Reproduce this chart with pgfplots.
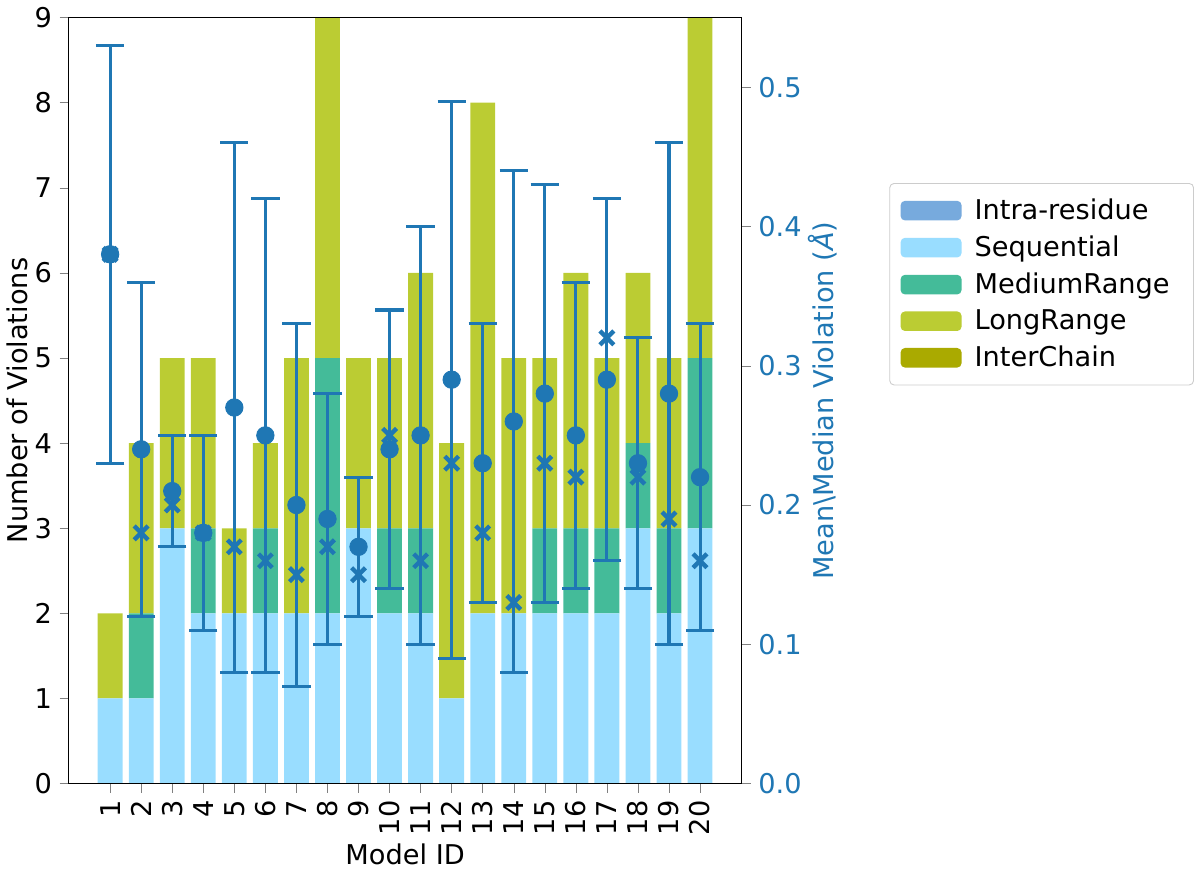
\documentclass[border=0pt]{standalone}
\usepackage{pgfplots}
\pgfplotsset{compat=1.18}
\usepackage{fontspec}
\setmainfont{DejaVu Sans}
\definecolor{intra}{HTML}{77AADD}
\definecolor{seq}{HTML}{99DDFF}
\definecolor{med}{HTML}{44BB99}
\definecolor{long}{HTML}{BBCC33}
\definecolor{inter}{HTML}{AAAA00}
\definecolor{tblue}{HTML}{1F77B4}
\begin{document}
\begin{tikzpicture}[font=\fontsize{12.5}{15}\selectfont]
\pgfplotsset{every axis/.style={width=309pt,height=352pt,scale only axis,xmin=-0.33,xmax=21.33}}
\begin{axis}[
  ymin=0,ymax=9, ytick={0,...,9},
  ybar stacked, bar width=0.8,
  axis on top,
  xtick={1,...,20}, xticklabel style={rotate=90,anchor=east},
  xlabel={Model ID}, ylabel={Number of Violations},
  xlabel style={yshift=3pt}, ylabel style={yshift=-4pt},
  tick align=outside, tick pos=left,
  /pgf/number format/assume math mode=true,
  legend style={at={(1.22,0.784)},anchor=north west,draw=black!20,rounded corners=2pt,
    row sep=2pt, inner sep=5pt, font=\fontsize{12.5}{15}\selectfont,
    nodes={inner xsep=6pt}},
  legend cell align=left,
  legend image code/.code={\fill[#1] (0pt,-4.5pt) rectangle (28pt,4.5pt);},
]
\addlegendimage{fill=intra,draw=none}
\addlegendentry{Intra-residue}
\addplot[fill=seq,draw=none] coordinates {(1,1)(2,1)(3,3)(4,2)(5,2)(6,2)(7,2)(8,2)(9,3)(10,2)(11,2)(12,1)(13,2)(14,2)(15,2)(16,2)(17,2)(18,3)(19,2)(20,3)};
\addlegendentry{Sequential}
\addplot[fill=med,draw=none] coordinates {(1,0)(2,1)(3,0)(4,1)(5,0)(6,1)(7,0)(8,3)(9,0)(10,1)(11,1)(12,0)(13,0)(14,0)(15,1)(16,1)(17,1)(18,1)(19,1)(20,2)};
\addlegendentry{MediumRange}
\addplot[fill=long,draw=none] coordinates {(1,1)(2,2)(3,2)(4,2)(5,1)(6,1)(7,3)(8,4)(9,2)(10,2)(11,3)(12,3)(13,6)(14,3)(15,2)(16,3)(17,2)(18,2)(19,2)(20,4)};
\addlegendentry{LongRange}
\addlegendimage{fill=inter,draw=none}
\addlegendentry{InterChain}
\end{axis}
\begin{axis}[
  ymin=0,ymax=0.55, ytick={0,0.1,...,0.5},
  axis x line=none, axis y line*=right,
  tick align=outside,
  yticklabel style={text=tblue,/pgf/number format/.cd,fixed,fixed zerofill,precision=1},
  /pgf/number format/assume math mode=true,
  ylabel={Mean\textbackslash Median Violation (\textit{Å})}, ylabel style={text=tblue,yshift=4pt},
]
\addplot[only marks,mark=*,mark size=4pt,color=tblue,
  error bars/.cd,y dir=both,y explicit,error bar style={line width=1.4pt},
  error mark options={rotate=90,mark size=6.5pt,line width=1.4pt}]
coordinates {
(1,0.38)+-(0,0.15) (2,0.24)+-(0,0.12) (3,0.21)+-(0,0.04) (4,0.18)+-(0,0.07) (5,0.27)+-(0,0.19)
(6,0.25)+-(0,0.17) (7,0.20)+-(0,0.13) (8,0.19)+-(0,0.09) (9,0.17)+-(0,0.05) (10,0.24)+-(0,0.10)
(11,0.25)+-(0,0.15) (12,0.29)+-(0,0.20) (13,0.23)+-(0,0.10) (14,0.26)+-(0,0.18) (15,0.28)+-(0,0.15)
(16,0.25)+-(0,0.11) (17,0.29)+-(0,0.13) (18,0.23)+-(0,0.09) (19,0.28)+-(0,0.18) (20,0.22)+-(0,0.11)};
\addplot[only marks,mark=x,mark size=4.5pt,mark options={line width=2pt},color=tblue] coordinates {
(1,0.38)(2,0.18)(3,0.20)(4,0.18)(5,0.17)(6,0.16)(7,0.15)(8,0.17)(9,0.15)(10,0.25)
(11,0.16)(12,0.23)(13,0.18)(14,0.13)(15,0.23)(16,0.22)(17,0.32)(18,0.22)(19,0.19)(20,0.16)};
\end{axis}
\end{tikzpicture}
\end{document}
